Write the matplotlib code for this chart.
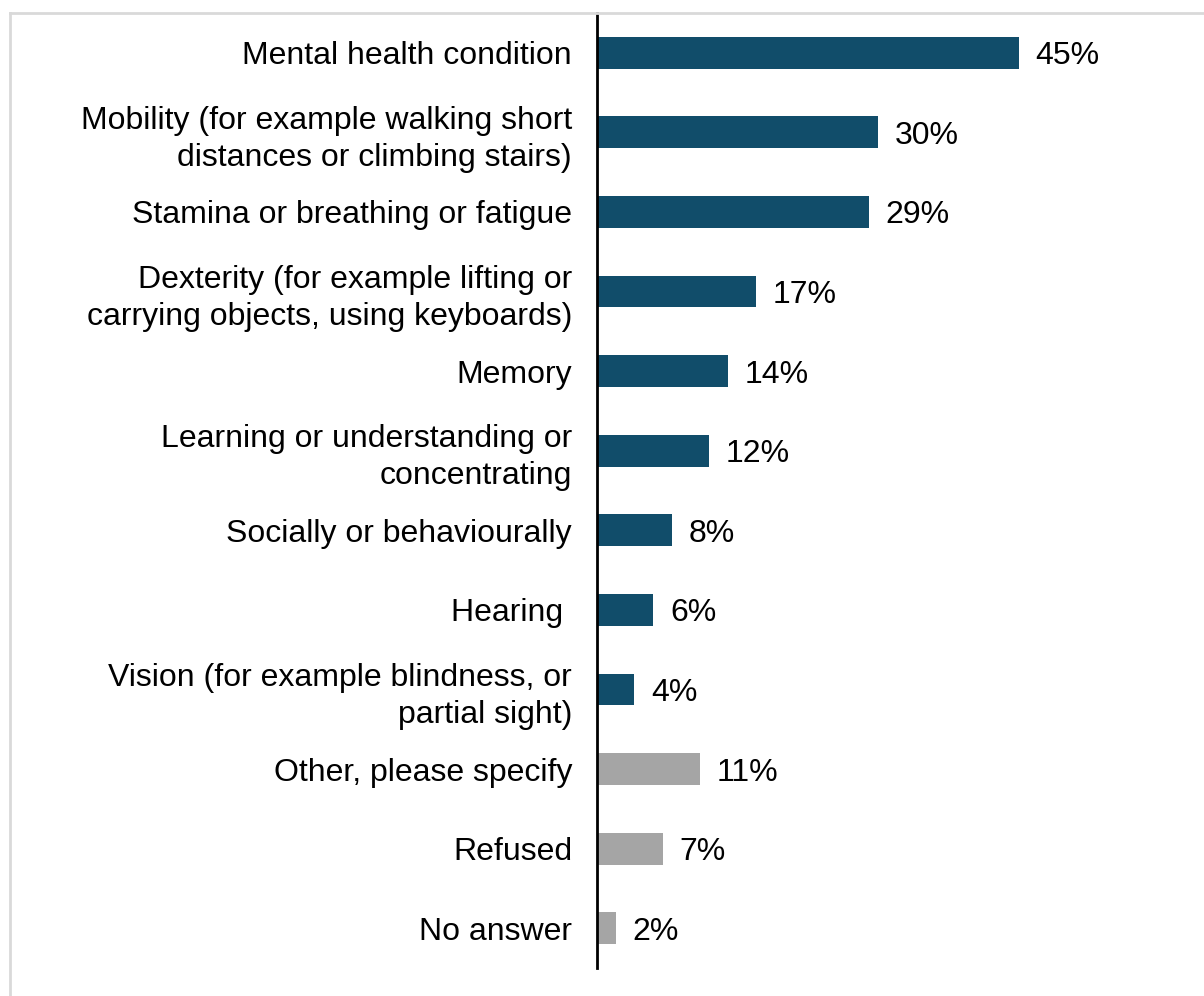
import matplotlib.pyplot as plt
from matplotlib.lines import Line2D

plt.rcParams['font.family'] = ['Liberation Sans', 'DejaVu Sans']

categories = [
    "Mental health condition",
    "Mobility (for example walking short\ndistances or climbing stairs)",
    "Stamina or breathing or fatigue",
    "Dexterity (for example lifting or\ncarrying objects, using keyboards)",
    "Memory",
    "Learning or understanding or\nconcentrating",
    "Socially or behaviourally",
    "Hearing ",
    "Vision (for example blindness, or\npartial sight)",
    "Other, please specify",
    "Refused",
    "No answer",
]
values = [45, 30, 29, 17, 14, 12, 8, 6, 4, 11, 7, 2]
groups = ["main"] * 9 + ["other"] * 3

colour_map = {"main": "#114D6A", "other": "#A5A5A5"}
colours = [colour_map[g] for g in groups]

fig = plt.figure(figsize=(12.04, 9.96), dpi=100)
ax = fig.add_axes([597 / 1204, 1 - 968 / 996, (1190 - 597) / 1204, (968 - 13) / 996])

y = list(range(len(categories)))
ax.barh(y, values, height=0.4, color=colours)

for yi, v in zip(y, values):
    ax.annotate(f"{v}%", (v, yi), xytext=(12, 0), textcoords="offset points",
                va="center_baseline", ha="left", fontsize=23, color="black")

ax.set_ylim(len(categories) - 0.5, -0.5)
ax.set_xlim(0, 63.3)
ax.set_yticks(y)
ax.set_yticklabels(categories, fontsize=23, ha="right", linespacing=1.3)
ax.tick_params(axis="y", length=0, pad=18)
ax.set_xticks([])

for side in ["top", "right", "bottom"]:
    ax.spines[side].set_visible(False)
ax.spines["left"].set_linewidth(2)
ax.spines["left"].set_color("black")

# thin grey frame along the top and left edge
fig.add_artist(Line2D([10 / 1204, 1], [1 - 13 / 996, 1 - 13 / 996],
                      transform=fig.transFigure, color="#D9D9D9", lw=2))
fig.add_artist(Line2D([10 / 1204, 10 / 1204], [0, 1 - 13 / 996],
                      transform=fig.transFigure, color="#D9D9D9", lw=2))

fig.savefig("out.png", dpi=100, facecolor="white")
